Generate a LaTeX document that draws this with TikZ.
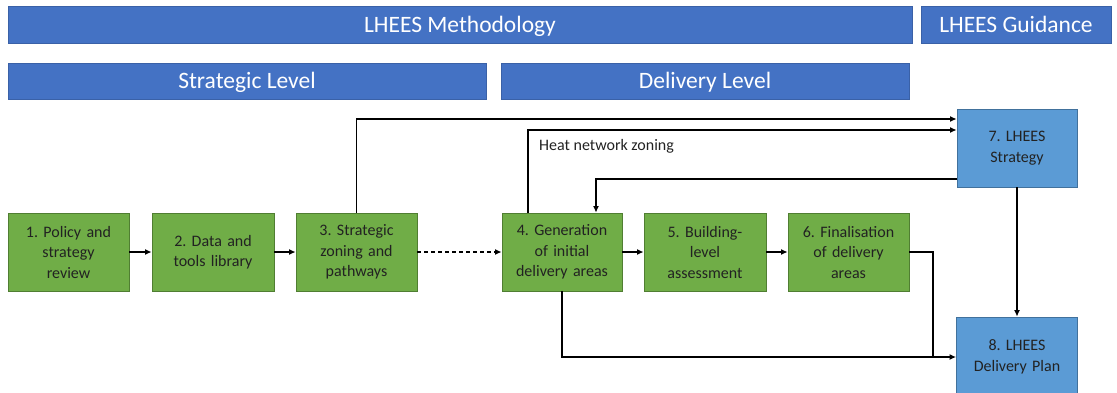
\documentclass[tikz,border=0pt]{standalone}
\usepackage{fontspec}
\setmainfont{Carlito}
\usetikzlibrary{arrows.meta}
\definecolor{barblue}{HTML}{4472C4}
\definecolor{boxgreen}{HTML}{70AD47}
\definecolor{greenedge}{HTML}{507E32}
\definecolor{boxblue}{HTML}{5B9BD5}
\definecolor{blueedge}{HTML}{41719C}
\definecolor{txt}{HTML}{222222}
\tikzset{
  bar/.style={fill=barblue, draw=barblue!85!black, line width=0.6pt, text=white, font=\fontsize{23.5}{28}\selectfont, inner sep=0pt, text height=15pt, text depth=0pt, minimum height=#1},
  bar/.default=37pt,
  gbox/.style={fill=boxgreen, draw=greenedge, line width=0.8pt, minimum height=78pt, text width=118pt, align=center, inner sep=0pt, font=\fontsize{16}{20.5}\selectfont, text=txt},
  bbox/.style={fill=boxblue, draw=blueedge, line width=0.8pt, text width=118pt, align=center, inner sep=0pt, font=\fontsize{16}{20.5}\selectfont, text=txt},
  arr/.style={line width=1.4pt, -{Latex[length=6.5pt,width=6pt]}},
  plain/.style={line width=1.4pt},
}
\begin{document}
\frenchspacing
\begin{tikzpicture}[x=1pt,y=-1pt]
\useasboundingbox (0,0) rectangle (1117,392);
% header bars
\node[bar, minimum width=904pt] (meth) at (460,24.5) {LHEES Methodology};
\node[bar, minimum width=190pt] (guid) at (1016,24.5) {LHEES Guidance};
\node[bar=36pt, minimum width=478pt] (strat) at (247,81) {Strategic Level};
\node[bar=36pt, minimum width=408pt] (deliv) at (705,81) {Delivery Level};
% process boxes
\node[gbox, minimum width=121pt] (b1) at (68.5,252) {1. Policy and\\strategy\\review};
\node[gbox, minimum width=122pt] (b2) at (213,252) {2. Data and\\tools library};
\node[gbox, minimum width=121pt] (b3) at (356.5,252) {3. Strategic\\zoning and\\pathways};
\node[gbox, minimum width=120pt] (b4) at (562,252) {4. Generation\\of initial\\delivery areas};
\node[gbox, minimum width=122pt] (b5) at (705,252) {5. Building-\\level\\assessment};
\node[gbox, minimum width=121pt] (b6) at (848.5,252) {6. Finalisation\\of delivery\\areas};
\node[bbox, minimum width=120pt, minimum height=78pt] (b7) at (1017,148) {7. LHEES\\Strategy};
\node[bbox, minimum width=121pt, minimum height=80pt] (b8) at (1017,357) {8. LHEES\\Delivery Plan};
% label
\node[anchor=base west, inner sep=0pt, font=\fontsize{16}{19}\selectfont, text=txt] (hnz) at (539,150) {Heat network zoning};
% connectors
\draw[arr] (b1) -- (b2);
\draw[arr] (b2) -- (b3);
\draw[arr, dashed, dash pattern=on 4pt off 3pt] (b3) -- (b4);
\draw[arr] (b4) -- (b5);
\draw[arr] (b5) -- (b6);
\draw[arr] (b3.north) |- ([yshift=29pt]b7.west);
\draw[arr] ([xshift=-34pt]b4.north) |- ([yshift=18pt]b7.west);
\draw[arr] ([yshift=-31pt]b7.west) -| ([xshift=34pt]b4.north);
\draw[arr] (b7) -- (b8);
\coordinate (j) at (933,357);
\draw[plain] (b6.east) -| (j);
\draw[arr] (b4.south) |- (b8.west);
\end{tikzpicture}
\end{document}
